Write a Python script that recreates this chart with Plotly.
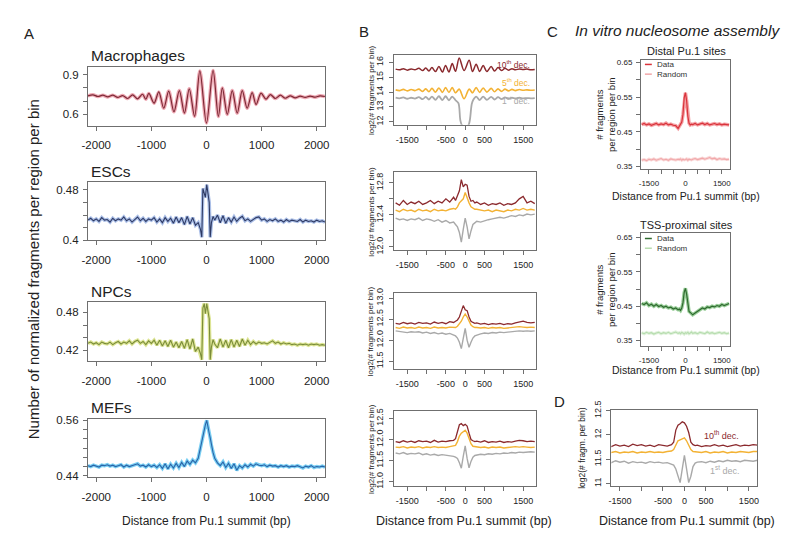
import plotly.graph_objects as go

# ---------------- DATA ----------------
# Panel A : Macrophages (extrema of the nucleosome oscillation)
MAC_X = [-2150, -2060, -1970, -1880, -1790, -1700, -1610, -1520, -1430, -1340, -1250, -1160, -1100, -1045,
         -950, -865, -775, -685, -590, -492, -400, -312, -215, -120, 0, 120, 216, 288, 378, 468, 558, 649,
         738, 829, 900, 990, 1080, 1160, 1250, 1340, 1430, 1520, 1610, 1700, 1790, 1880, 1970, 2060, 2150]
MAC_Y = [0.74, 0.748, 0.735, 0.745, 0.732, 0.745, 0.728, 0.742, 0.72, 0.748, 0.718, 0.752, 0.715, 0.758,
         0.685, 0.77, 0.647, 0.776, 0.62, 0.78, 0.61, 0.793, 0.585, 0.928, 0.535, 0.932, 0.585, 0.80, 0.60,
         0.78, 0.61, 0.78, 0.647, 0.765, 0.675, 0.76, 0.715, 0.75, 0.72, 0.745, 0.722, 0.74, 0.725, 0.738,
         0.728, 0.738, 0.73, 0.74, 0.735]

A_X = [-2150, -2100, -2050, -2000, -1950, -1900, -1850, -1800, -1750, -1700, -1650, -1600, -1550, -1500,
       -1450, -1400, -1350, -1300, -1250, -1200, -1150, -1100, -1050, -1000, -950, -900, -850, -800, -750,
       -700, -650, -600, -550, -500, -450, -400, -350, -300, -250, -200,
       -150, -110, -85, -65, -40, -20, 5, 30, 50, 68, 90, 120, 150,
       200, 250, 300, 350, 400, 450, 500, 550, 600, 650, 700, 750, 800, 850, 900, 950, 1000, 1050, 1100,
       1150, 1200, 1250, 1300, 1350, 1400, 1450, 1500, 1550, 1600, 1650, 1700, 1750, 1800, 1850, 1900,
       1950, 2000, 2050, 2100, 2150]
ESC_Y = [0.432, 0.435, 0.431, 0.434, 0.430, 0.436, 0.432, 0.433, 0.429, 0.435, 0.431, 0.434, 0.432, 0.437,
         0.431, 0.434, 0.429, 0.433, 0.437, 0.431, 0.435, 0.430, 0.434, 0.432, 0.436, 0.429, 0.434, 0.428,
         0.436, 0.430, 0.435, 0.427, 0.437, 0.428, 0.436, 0.425, 0.438, 0.426, 0.436, 0.424,
         0.428, 0.418, 0.405, 0.482, 0.472, 0.468, 0.488, 0.474, 0.46, 0.405, 0.428, 0.438, 0.432,
         0.440, 0.428, 0.439, 0.427, 0.436, 0.429, 0.437, 0.430, 0.435, 0.438, 0.431, 0.434, 0.430, 0.433,
         0.436, 0.437, 0.432, 0.434, 0.430, 0.433, 0.431, 0.434, 0.430, 0.432, 0.429, 0.433, 0.430, 0.432,
         0.431, 0.430, 0.433, 0.429, 0.432, 0.430, 0.431, 0.429, 0.432, 0.430, 0.431, 0.429]
NPC_Y = [0.431, 0.433, 0.430, 0.432, 0.429, 0.433, 0.431, 0.430, 0.433, 0.429, 0.432, 0.434, 0.430, 0.433,
         0.431, 0.435, 0.430, 0.434, 0.436, 0.431, 0.434, 0.429, 0.435, 0.431, 0.436, 0.428, 0.436, 0.427,
         0.435, 0.426, 0.436, 0.425, 0.433, 0.424, 0.434, 0.423, 0.437, 0.422, 0.438, 0.418,
         0.425, 0.415, 0.405, 0.487, 0.494, 0.478, 0.494, 0.48, 0.47, 0.405, 0.425, 0.437, 0.430,
         0.424, 0.438, 0.425, 0.436, 0.424, 0.437, 0.425, 0.436, 0.426, 0.438, 0.428, 0.436, 0.429, 0.434,
         0.430, 0.433, 0.431, 0.432, 0.430, 0.433, 0.435, 0.431, 0.433, 0.430, 0.432, 0.430, 0.431, 0.429,
         0.430, 0.428, 0.430, 0.429, 0.430, 0.428, 0.430, 0.429, 0.430, 0.428, 0.429, 0.428]
MEF_Y = [0.462, 0.460, 0.463, 0.461, 0.459, 0.463, 0.462, 0.464, 0.461, 0.463, 0.460, 0.462, 0.464, 0.459,
         0.463, 0.460, 0.462, 0.465, 0.466, 0.461, 0.463, 0.459, 0.464, 0.460, 0.463, 0.458, 0.464, 0.456,
         0.466, 0.455, 0.465, 0.457, 0.467, 0.458, 0.469, 0.460, 0.472, 0.465, 0.474, 0.468,
         0.478, 0.500, 0.515, 0.530, 0.540, 0.550, 0.560, 0.548, 0.532, 0.522, 0.505, 0.490, 0.478,
         0.468, 0.462, 0.470, 0.458, 0.467, 0.456, 0.466, 0.452, 0.462, 0.457, 0.464, 0.459, 0.465, 0.461,
         0.466, 0.463, 0.462, 0.464, 0.460, 0.463, 0.461, 0.462, 0.459, 0.462, 0.460, 0.462, 0.459, 0.461,
         0.460, 0.462, 0.459, 0.457, 0.461, 0.459, 0.462, 0.458, 0.460, 0.459, 0.461, 0.459]

# Panel B (top) : oscillating deciles
B1_X = [-1800, -1700, -1600, -1500, -1400, -1300, -1200, -1100, -1020, -940, -860, -770, -680, -590, -508,
        -420, -336, -250, -155, -30, 103, 190, 284, 375, 465, 560, 672, 760, 850, 940, 1030, 1120, 1210,
        1300, 1400, 1500, 1600, 1700, 1800]
B1_D10 = [15.55, 15.5, 15.58, 15.48, 15.56, 15.5, 15.6, 15.45, 15.62, 15.42, 15.65, 15.38, 15.72, 15.35,
          15.8, 15.35, 15.92, 15.4, 16.3, 15.45, 16.15, 15.38, 15.88, 15.38, 15.8, 15.38, 15.72, 15.42,
          15.65, 15.45, 15.6, 15.48, 15.58, 15.5, 15.56, 15.52, 15.55, 15.5, 15.53]
B1_D5 = [14.15, 14.1, 14.18, 14.08, 14.17, 14.1, 14.2, 14.05, 14.22, 14.02, 14.25, 14.0, 14.28, 13.98,
         14.3, 13.98, 14.3, 13.95, 14.2, 13.55, 14.2, 13.95, 14.3, 13.98, 14.28, 14.0, 14.25, 14.02, 14.22,
         14.05, 14.2, 14.08, 14.18, 14.1, 14.17, 14.12, 14.15, 14.12, 14.14]
B1_D1_X = [-1800, -1700, -1600, -1500, -1400, -1300, -1200, -1100, -1020, -940, -860, -770, -680, -590,
           -508, -420, -336, -250, -175, -125, -80, 0, 80, 120, 170, 210, 284, 375, 465, 560, 672, 760,
           850, 940, 1030, 1120, 1210, 1300, 1400, 1500, 1600, 1700, 1800]
B1_D1 = [13.62, 13.58, 13.64, 13.55, 13.62, 13.56, 13.66, 13.52, 13.68, 13.5, 13.7, 13.48, 13.72, 13.46,
         13.72, 13.45, 13.7, 13.45, 13.25, 12.1, 11.76, 11.72, 11.76, 12.1, 13.2, 13.48, 13.7, 13.46, 13.7,
         13.48, 13.68, 13.5, 13.66, 13.52, 13.64, 13.55, 13.62, 13.57, 13.62, 13.58, 13.6, 13.58, 13.6]

# common grid for the noisy decile / in-vitro profiles
BX = [-1800, -1700, -1600, -1500, -1400, -1300, -1200, -1100, -1000, -900, -800, -700, -600, -500, -400,
      -300, -250, -200, -150, -100, -50, 0, 50, 100, 150, 200, 250, 300, 400, 500, 600, 700, 800, 900,
      1000, 1100, 1200, 1300, 1400, 1500, 1600, 1700, 1800]

B2_D10 = [12.55, 12.52, 12.58, 12.53, 12.56, 12.54, 12.57, 12.53, 12.55, 12.58, 12.54, 12.57, 12.55, 12.6,
          12.56, 12.62, 12.58, 12.64, 12.7, 12.84, 12.75, 12.78, 12.77, 12.63, 12.57, 12.58, 12.55, 12.56,
          12.53, 12.55, 12.52, 12.54, 12.53, 12.55, 12.52, 12.54, 12.53, 12.55, 12.6, 12.63, 12.55, 12.57,
          12.54]
B2_D5 = [12.46, 12.44, 12.47, 12.45, 12.46, 12.44, 12.47, 12.45, 12.46, 12.44, 12.47, 12.45, 12.46, 12.45,
         12.47, 12.48, 12.47, 12.5, 12.55, 12.58, 12.6, 12.68, 12.6, 12.55, 12.5, 12.48, 12.47, 12.47, 12.46,
         12.45, 12.46, 12.44, 12.46, 12.45, 12.44, 12.46, 12.45, 12.47, 12.46, 12.48, 12.46, 12.47, 12.46]
B2_D1 = [12.36, 12.34, 12.35, 12.33, 12.35, 12.34, 12.36, 12.33, 12.35, 12.34, 12.32, 12.34, 12.31, 12.33,
         12.3, 12.31, 12.28, 12.25, 12.18, 12.06, 12.22, 12.36, 12.25, 12.1, 12.2, 12.28, 12.3, 12.32,
         12.31, 12.33, 12.34, 12.35, 12.36, 12.37, 12.36, 12.38, 12.39, 12.38, 12.4, 12.39, 12.41, 12.4,
         12.41]

B3_D10 = [12.4, 12.38, 12.42, 12.39, 12.41, 12.38, 12.42, 12.4, 12.41, 12.38, 12.43, 12.4, 12.42, 12.39,
          12.44, 12.42, 12.45, 12.48, 12.55, 12.68, 12.82, 12.72, 12.7, 12.55, 12.45, 12.42, 12.4, 12.41,
          12.38, 12.4, 12.37, 12.39, 12.38, 12.4, 12.37, 12.39, 12.38, 12.41, 12.43, 12.45, 12.42, 12.41,
          12.42]
B3_D5 = [12.3, 12.28, 12.31, 12.29, 12.3, 12.28, 12.31, 12.29, 12.3, 12.28, 12.31, 12.29, 12.3, 12.29,
         12.31, 12.3, 12.3, 12.33, 12.38, 12.45, 12.55, 12.62, 12.55, 12.45, 12.36, 12.32, 12.3, 12.3, 12.29,
         12.3, 12.28, 12.3, 12.29, 12.3, 12.28, 12.29, 12.3, 12.31, 12.32, 12.31, 12.3, 12.31, 12.3]
B3_D1 = [12.22, 12.21, 12.2, 12.18, 12.2, 12.19, 12.2, 12.17, 12.19, 12.16, 12.18, 12.15, 12.17, 12.14,
         12.16, 12.12, 12.1, 12.05, 11.95, 11.8, 12.05, 12.28, 12.0, 11.83, 11.95, 12.05, 12.1, 12.12, 12.15,
         12.17, 12.16, 12.18, 12.17, 12.19, 12.18, 12.19, 12.2, 12.21, 12.22, 12.21, 12.22, 12.21, 12.22]

B4_D10 = [11.95, 11.93, 11.97, 11.94, 11.96, 11.93, 11.97, 11.95, 11.96, 11.93, 11.98, 11.94, 11.96, 11.95,
          11.97, 11.98, 12.02, 12.2, 12.35, 12.38, 12.33, 12.36, 12.32, 12.15, 12.0, 11.97, 11.95, 11.96,
          11.94, 11.97, 11.93, 11.95, 11.94, 11.96, 11.93, 11.95, 11.94, 11.96, 11.98, 11.97, 11.95, 11.96,
          11.95]
B4_D5 = [11.82, 11.81, 11.83, 11.8, 11.82, 11.81, 11.83, 11.8, 11.82, 11.81, 11.83, 11.81, 11.82, 11.81,
         11.83, 11.84, 11.86, 11.95, 12.08, 12.15, 12.18, 12.22, 12.15, 12.02, 11.9, 11.84, 11.83, 11.82,
         11.81, 11.82, 11.8, 11.82, 11.81, 11.82, 11.8, 11.81, 11.82, 11.83, 11.82, 11.83, 11.82, 11.81,
         11.82]
B4_D1 = [11.68, 11.66, 11.69, 11.65, 11.67, 11.66, 11.68, 11.64, 11.66, 11.63, 11.65, 11.62, 11.64, 11.63,
         11.62, 11.6, 11.58, 11.55, 11.45, 11.32, 11.6, 11.85, 11.55, 11.33, 11.48, 11.58, 11.62, 11.63,
         11.65, 11.64, 11.66, 11.65, 11.67, 11.66, 11.68, 11.67, 11.69, 11.68, 11.7, 11.69, 11.7, 11.71,
         11.7]

# Panel C : in vitro nucleosome assembly
C1_DATA = [0.471, 0.474, 0.47, 0.473, 0.469, 0.472, 0.474, 0.47, 0.473, 0.471, 0.475, 0.47, 0.472, 0.469,
           0.468, 0.46, 0.465, 0.47, 0.478, 0.5, 0.548, 0.563, 0.54, 0.495, 0.475, 0.47, 0.472, 0.471,
           0.474, 0.47, 0.473, 0.475, 0.471, 0.474, 0.47, 0.472, 0.474, 0.471, 0.473, 0.47, 0.472, 0.471,
           0.47]
C1_RAND = [0.368, 0.37, 0.367, 0.371, 0.369, 0.372, 0.368, 0.37, 0.373, 0.369, 0.371, 0.368, 0.372, 0.37,
           0.369, 0.371, 0.37, 0.372, 0.368, 0.371, 0.369, 0.37, 0.372, 0.368, 0.371, 0.37, 0.369, 0.371,
           0.373, 0.37, 0.372, 0.374, 0.371, 0.373, 0.376, 0.372, 0.374, 0.37, 0.373, 0.371, 0.372, 0.37,
           0.371]
C2_DATA = [0.458, 0.455, 0.46, 0.452, 0.456, 0.45, 0.455, 0.449, 0.452, 0.447, 0.45, 0.445, 0.447, 0.442,
           0.445, 0.44, 0.442, 0.438, 0.445, 0.46, 0.49, 0.502, 0.485, 0.45, 0.435, 0.432, 0.428, 0.425,
           0.43, 0.435, 0.44, 0.445, 0.442, 0.448, 0.446, 0.45, 0.448, 0.452, 0.45, 0.455, 0.452, 0.456,
           0.458]
C2_RAND = [0.373, 0.37, 0.374, 0.371, 0.373, 0.369, 0.372, 0.374, 0.37, 0.373, 0.371, 0.374, 0.37, 0.372,
           0.375, 0.371, 0.373, 0.37, 0.374, 0.372, 0.369, 0.373, 0.371, 0.374, 0.37, 0.372, 0.375, 0.371,
           0.373, 0.37, 0.374, 0.372, 0.37, 0.375, 0.371, 0.373, 0.37, 0.372, 0.374, 0.371, 0.373, 0.37,
           0.372]

# Panel D
D_D10 = [11.78, 11.76, 11.8, 11.77, 11.79, 11.76, 11.81, 11.78, 11.8, 11.77, 11.79, 11.76, 11.8, 11.78,
         11.77, 11.8, 11.85, 12.1, 12.2, 12.23, 12.27, 12.25, 12.18, 12.05, 11.85, 11.8, 11.78, 11.79,
         11.76, 11.78, 11.77, 11.8, 11.77, 11.79, 11.76, 11.78, 11.8, 11.77, 11.79, 11.78, 11.8, 11.79, 11.8]
D_D5 = [11.65, 11.64, 11.66, 11.63, 11.65, 11.64, 11.66, 11.63, 11.65, 11.64, 11.66, 11.64, 11.65, 11.64,
        11.66, 11.67, 11.7, 11.8, 11.88, 11.9, 11.92, 11.94, 11.88, 11.8, 11.7, 11.66, 11.65, 11.65, 11.64,
        11.66, 11.63, 11.65, 11.64, 11.66, 11.63, 11.65, 11.64, 11.66, 11.65, 11.64, 11.66, 11.65, 11.66]
D_D1 = [11.45, 11.43, 11.47, 11.44, 11.46, 11.42, 11.45, 11.43, 11.44, 11.42, 11.45, 11.43, 11.44, 11.42,
        11.43, 11.4, 11.38, 11.3, 11.15, 11.02, 11.3, 11.58, 11.3, 11.02, 11.15, 11.35, 11.42, 11.44, 11.45,
        11.43, 11.46, 11.44, 11.47, 11.45, 11.48, 11.46, 11.47, 11.45, 11.48, 11.47, 11.46, 11.48, 11.47]

for arr in [ESC_Y, NPC_Y, MEF_Y]:
    assert len(arr) == len(A_X)
assert len(MAC_X) == len(MAC_Y)
assert len(B1_X) == len(B1_D10) == len(B1_D5) and len(B1_D1_X) == len(B1_D1)
for arr in [B2_D10, B2_D5, B2_D1, B3_D10, B3_D5, B3_D1, B4_D10, B4_D5, B4_D1,
            C1_DATA, C1_RAND, C2_DATA, C2_RAND, D_D10, D_D5, D_D1]:
    assert len(arr) == len(BX), len(arr)

# ---------------- STYLE / LAYOUT ----------------
W, H = 800, 545
FONT = "Liberation Sans, Arial, Helvetica, sans-serif"
TXT = "#222222"
BOX = "#6f6f6f"
C_D10, C_D5, C_D1 = "#8b2a2e", "#f3b234", "#a9a9a9"


def xd(a, b):
    return [a / W, b / W]


def yd(top, bottom):
    return [1 - bottom / H, 1 - top / H]


fig = go.Figure()
layout = {}


def panel(n, xpx, ypx, xr, yr, xtv, xminor, ytv, yminor, fsize, yangle=0, xstand=2, yfmt="{}"):
    sx = "" if n == 1 else str(n)
    common = dict(showline=True, mirror=True, linecolor=BOX, linewidth=1, showgrid=False,
                  zeroline=False, ticks="outside", ticklen=4, tickwidth=1, tickcolor=BOX,
                  tickfont=dict(family=FONT, size=fsize, color=TXT), tickmode="array")
    mn = dict(ticks="outside", ticklen=4, tickwidth=1, tickcolor=BOX, showgrid=False, tickmode="array")
    layout["xaxis" + sx] = dict(common, domain=xd(*xpx), range=xr, anchor="y" + sx,
                                tickvals=xtv, ticktext=[str(v) for v in xtv],
                                ticklabelstandoff=xstand, minor=dict(mn, tickvals=xminor))
    layout["yaxis" + sx] = dict(common, domain=yd(*ypx), range=yr, anchor="x" + sx,
                                tickvals=ytv, ticktext=[yfmt.format(v) for v in ytv], tickangle=yangle,
                                ticklabelstandoff=2, minor=dict(mn, tickvals=yminor))
    return "x" + sx, "y" + sx


def line(ax, x, y, color, width, band=None, bandw=3.5, shape="linear"):
    xa, ya = ax
    if band:
        fig.add_trace(go.Scatter(x=x, y=y, xaxis=xa, yaxis=ya, mode="lines", hoverinfo="skip",
                                 line=dict(color=band, width=bandw, shape=shape, smoothing=0.9),
                                 showlegend=False))
    fig.add_trace(go.Scatter(x=x, y=y, xaxis=xa, yaxis=ya, mode="lines",
                             line=dict(color=color, width=width, shape=shape, smoothing=0.9),
                             showlegend=False))


A_XT = [-2000, -1000, 0, 1000, 2000]
AX = (83, 323)
ax1 = panel(1, AX, (60, 120), [-2150, 2150], [0.515, 0.955], A_XT, [],
            [0.6, 0.9], [0.7, 0.8], 11.5, xstand=5)
ax2 = panel(2, AX, (178, 238), [-2150, 2150], [0.4, 0.492], A_XT, [],
            [0.4, 0.48], [0.42, 0.44, 0.46], 11.5, xstand=5)
ax3 = panel(3, AX, (301, 362), [-2150, 2150], [0.403, 0.497], A_XT, [],
            [0.42, 0.48], [0.44, 0.46], 11.5, xstand=5)
ax4 = panel(4, AX, (422, 481), [-2150, 2150], [0.438, 0.562], A_XT, [],
            [0.44, 0.56], [0.46, 0.48, 0.50, 0.52, 0.54], 11.5, xstand=5)

line(ax1, MAC_X, MAC_Y, "#7d2a36", 1.2, band="rgba(232,140,155,0.75)", shape="spline")
line(ax2, A_X, ESC_Y, "#2e3a64", 1.1, band="rgba(150,175,225,0.8)")
line(ax3, A_X, NPC_Y, "#7a8c3a", 1.1, band="rgba(215,225,130,0.85)")
line(ax4, A_X, MEF_Y, "#2a64a8", 1.1, band="rgba(90,195,240,0.8)")

B_XT = [-1500, -500, 0, 500, 1500]
B_XM = [-1000, 1000]
BXP = (393, 537)
bx1 = panel(5, BXP, (47, 119), [-1840, 1840], [11.8, 16.52], B_XT, B_XM,
            [12, 13, 14, 15, 16], [], 9, yangle=-90)
bx2 = panel(6, BXP, (168, 248), [-1840, 1840], [11.96, 12.93], B_XT, B_XM,
            [12.0, 12.4, 12.8], [12.2, 12.6], 9, yangle=-90, yfmt="{:.1f}")
bx3 = panel(7, BXP, (292, 370), [-1840, 1840], [11.32, 13.12], B_XT, B_XM,
            [11.5, 12.0, 12.5, 13.0], [], 9, yangle=-90, yfmt="{:.1f}")
bx4 = panel(8, BXP, (413, 491), [-1840, 1840], [10.885, 12.685], B_XT, B_XM,
            [11.0, 11.5, 12.0, 12.5], [], 9, yangle=-90, yfmt="{:.1f}")

line(bx1, B1_D1_X, B1_D1, C_D1, 1.8, shape="spline")
line(bx1, B1_X, B1_D5, C_D5, 1.6, shape="spline")
line(bx1, B1_X, B1_D10, C_D10, 1.5, shape="spline")
for ax, d1, d5, d10 in [(bx2, B2_D1, B2_D5, B2_D10), (bx3, B3_D1, B3_D5, B3_D10),
                        (bx4, B4_D1, B4_D5, B4_D10)]:
    line(ax, BX, d1, C_D1, 1.4)
    line(ax, BX, d5, C_D5, 1.4)
    line(ax, BX, d10, C_D10, 1.3)

C_XT = [-1500, 0, 1500]
C_XM = [-1000, -500, 500, 1000]
C_YT = [0.35, 0.45, 0.55, 0.65]
C_YM = [0.40, 0.50, 0.60]
CXP = (643, 733)
cx1 = panel(9, CXP, (52, 165), [-1830, 1830], [0.3415, 0.6585], C_XT, C_XM, C_YT, C_YM, 8)
cx2 = panel(10, CXP, (230, 347), [-1830, 1830], [0.333, 0.664], C_XT, C_XM, C_YT, C_YM, 8)
line(cx1, BX, C1_RAND, "#f1a7a9", 1.1, band="rgba(248,205,205,0.8)", bandw=3)
line(cx1, BX, C1_DATA, "#d9333b", 1.2, band="rgba(240,120,125,0.7)", bandw=3.5)
line(cx2, BX, C2_RAND, "#b6dcae", 1.1, band="rgba(215,238,210,0.8)", bandw=3)
line(cx2, BX, C2_DATA, "#2f6a2f", 1.2, band="rgba(110,185,110,0.7)", bandw=3.5)

dx = panel(11, (613, 761), (412, 491), [-1700, 1700], [10.94, 12.52], B_XT, B_XM,
           [11, 11.5, 12, 12.5], [], 9, yangle=-90)
line(dx, BX, D_D1, C_D1, 1.4)
line(dx, BX, D_D5, C_D5, 1.4)
line(dx, BX, D_D10, C_D10, 1.3)

# ---------------- TEXT ----------------
ann = []


def txt(x, y, s, size, color=TXT, xanchor="center", angle=0, italic=False):
    ann.append(dict(x=x / W, y=1 - y / H, xref="paper", yref="paper", text=s, showarrow=False,
                    xanchor=xanchor, yanchor="middle", textangle=angle,
                    font=dict(family=FONT, size=size, color=color,
                              style="italic" if italic else "normal")))


txt(23, 25, "A", 15)
txt(363, 23, "B", 15)
txt(553, 23, "C", 15)
txt(560, 404, "D", 15)
txt(574, 22, "In vitro nucleosome assembly", 15.5, xanchor="left", italic=True)

txt(84, 48, "Macrophages", 15.5, xanchor="left")
txt(84, 167, "ESCs", 15.5, xanchor="left")
txt(84, 290, "NPCs", 15.5, xanchor="left")
txt(84, 410, "MEFs", 15.5, xanchor="left")
txt(28, 268, "Number of normalized fragments per region per bin", 15, angle=-90)
txt(203, 527, "Distance from Pu.1 summit (bp)", 12)

for yc in [(47 + 119) / 2, (168 + 248) / 2, (292 + 370) / 2, (413 + 491) / 2]:
    txt(370, yc, "log2(# fragments per bin)", 8, angle=-90)
txt(464, 527, "Distance from Pu.1 summit (bp)", 12.5)

txt(533, 57, "10<sup>th</sup> dec.", 8.5, color=C_D10, xanchor="right")
txt(533, 76, "5<sup>th</sup> dec.", 8.5, color=C_D5, xanchor="right")
txt(533, 94, "1<sup>st</sup> dec.", 8.5, color=C_D1, xanchor="right")

txt(689, 43, "Distal Pu.1 sites", 11)
txt(689, 222, "TSS-proximal sites", 11)
for yc in [(52 + 165) / 2, (230 + 347) / 2]:
    txt(607, yc, "# fragments<br>per region per bin", 9.5, angle=-90)
txt(689, 192, "Distance from Pu.1 summit (bp)", 10.5)
txt(689, 371, "Distance from Pu.1 summit (bp)", 10.5)

# small legends in C
shapes = []
for (ytop, cdata, crand) in [(57, "#d9333b", "#f1a7a9"), (236, "#2f6a2f", "#b6dcae")]:
    for k, (col, lab) in enumerate([(cdata, "Data"), (crand, "Random")]):
        yy = ytop + k * 10
        shapes.append(dict(type="line", xref="paper", yref="paper", x0=647 / W, x1=654 / W,
                           y0=1 - yy / H, y1=1 - yy / H, line=dict(color=col, width=1.5)))
        txt(657, yy, lab, 8, color="#333333", xanchor="left")

txt(583, (412 + 491) / 2, "log2(# fragm. per bin)", 8.5, angle=-90)
txt(744, 438, "10<sup>th</sup> dec.", 9, color=C_D10, xanchor="right")
txt(744, 474, "1<sup>st</sup> dec.", 9, color=C_D1, xanchor="right")
txt(690, 527, "Distance from Pu.1 summit (bp)", 12.5)

fig.update_layout(width=W, height=H, margin=dict(l=0, r=0, t=0, b=0), paper_bgcolor="white",
                  plot_bgcolor="white", showlegend=False, annotations=ann, shapes=shapes, **layout)
fig.write_html("out.html", config={"displayModeBar": False},
               post_script="document.body.style.margin='0';document.body.style.overflow='hidden';")
